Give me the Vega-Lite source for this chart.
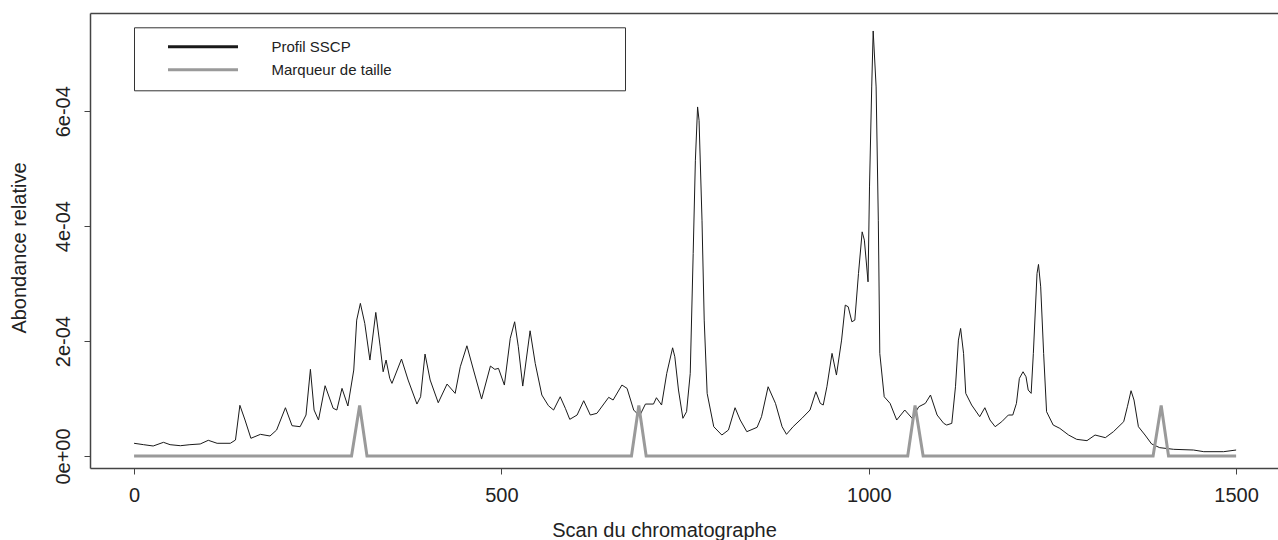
{
  "$schema": "https://vega.github.io/schema/vega-lite/v6.json",
  "width": 1188,
  "height": 455,
  "autosize": {"type": "none"},
  "padding": {"left": 90, "top": 13, "right": 0, "bottom": 72},
  "background": "white",
  "config": {
    "view": {"stroke": null},
    "font": "Liberation Sans",
    "axis": {
      "labelFont": "Liberation Sans",
      "titleFont": "Liberation Sans",
      "labelFontSize": 20,
      "titleFontSize": 20,
      "labelColor": "#222222",
      "titleColor": "#222222",
      "titleFontWeight": "normal",
      "domainColor": "#444444",
      "domainWidth": 1.5,
      "tickColor": "#444444",
      "tickWidth": 1,
      "tickSize": 6,
      "grid": false
    },
    "legend": {
      "orient": "none",
      "legendX": 44,
      "legendY": 14.3,
      "direction": "vertical",
      "padding": 12,
      "rowPadding": 7,
      "strokeColor": "#333333",
      "fillColor": "white",
      "labelFont": "Liberation Sans",
      "labelFontSize": 15,
      "labelColor": "#222222",
      "labelLimit": 1000,
      "symbolType": "M-10,0L10,0",
      "symbolSize": 49,
      "symbolStrokeWidth": 3,
      "symbolOffset": 49.5,
      "labelOffset": 61
    }
  },
  "data": {
    "values": [
      {"serie": "Profil SSCP", "scan": 0, "abondance": 2.21e-5},
      {"serie": "Profil SSCP", "scan": 13, "abondance": 1.97e-5},
      {"serie": "Profil SSCP", "scan": 26, "abondance": 1.74e-5},
      {"serie": "Profil SSCP", "scan": 40, "abondance": 2.38e-5},
      {"serie": "Profil SSCP", "scan": 49, "abondance": 1.97e-5},
      {"serie": "Profil SSCP", "scan": 63, "abondance": 1.79e-5},
      {"serie": "Profil SSCP", "scan": 76, "abondance": 1.97e-5},
      {"serie": "Profil SSCP", "scan": 90, "abondance": 2.09e-5},
      {"serie": "Profil SSCP", "scan": 101, "abondance": 2.73e-5},
      {"serie": "Profil SSCP", "scan": 113, "abondance": 2.21e-5},
      {"serie": "Profil SSCP", "scan": 131, "abondance": 2.21e-5},
      {"serie": "Profil SSCP", "scan": 138, "abondance": 2.78e-5},
      {"serie": "Profil SSCP", "scan": 144, "abondance": 8.82e-5},
      {"serie": "Profil SSCP", "scan": 151, "abondance": 6.26e-5},
      {"serie": "Profil SSCP", "scan": 159, "abondance": 3.08e-5},
      {"serie": "Profil SSCP", "scan": 172, "abondance": 3.77e-5},
      {"serie": "Profil SSCP", "scan": 185, "abondance": 3.48e-5},
      {"serie": "Profil SSCP", "scan": 194, "abondance": 4.52e-5},
      {"serie": "Profil SSCP", "scan": 206, "abondance": 8.40e-5},
      {"serie": "Profil SSCP", "scan": 215, "abondance": 5.27e-5},
      {"serie": "Profil SSCP", "scan": 226, "abondance": 5.10e-5},
      {"serie": "Profil SSCP", "scan": 234, "abondance": 7.13e-5},
      {"serie": "Profil SSCP", "scan": 240, "abondance": 1.508e-4},
      {"serie": "Profil SSCP", "scan": 245, "abondance": 8.0e-5},
      {"serie": "Profil SSCP", "scan": 251, "abondance": 6.26e-5},
      {"serie": "Profil SSCP", "scan": 260, "abondance": 1.223e-4},
      {"serie": "Profil SSCP", "scan": 271, "abondance": 8.3e-5},
      {"serie": "Profil SSCP", "scan": 276, "abondance": 8.0e-5},
      {"serie": "Profil SSCP", "scan": 283, "abondance": 1.177e-4},
      {"serie": "Profil SSCP", "scan": 291, "abondance": 8.7e-5},
      {"serie": "Profil SSCP", "scan": 299, "abondance": 1.496e-4},
      {"serie": "Profil SSCP", "scan": 303, "abondance": 2.365e-4},
      {"serie": "Profil SSCP", "scan": 308, "abondance": 2.656e-4},
      {"serie": "Profil SSCP", "scan": 314, "abondance": 2.308e-4},
      {"serie": "Profil SSCP", "scan": 321, "abondance": 1.67e-4},
      {"serie": "Profil SSCP", "scan": 329, "abondance": 2.499e-4},
      {"serie": "Profil SSCP", "scan": 335, "abondance": 1.90e-4},
      {"serie": "Profil SSCP", "scan": 339, "abondance": 1.466e-4},
      {"serie": "Profil SSCP", "scan": 343, "abondance": 1.67e-4},
      {"serie": "Profil SSCP", "scan": 348, "abondance": 1.351e-4},
      {"serie": "Profil SSCP", "scan": 351, "abondance": 1.264e-4},
      {"serie": "Profil SSCP", "scan": 364, "abondance": 1.687e-4},
      {"serie": "Profil SSCP", "scan": 373, "abondance": 1.322e-4},
      {"serie": "Profil SSCP", "scan": 385, "abondance": 9.04e-5},
      {"serie": "Profil SSCP", "scan": 390, "abondance": 1.031e-4},
      {"serie": "Profil SSCP", "scan": 396, "abondance": 1.774e-4},
      {"serie": "Profil SSCP", "scan": 403, "abondance": 1.322e-4},
      {"serie": "Profil SSCP", "scan": 414, "abondance": 9.27e-5},
      {"serie": "Profil SSCP", "scan": 426, "abondance": 1.252e-4},
      {"serie": "Profil SSCP", "scan": 437, "abondance": 1.090e-4},
      {"serie": "Profil SSCP", "scan": 444, "abondance": 1.553e-4},
      {"serie": "Profil SSCP", "scan": 453, "abondance": 1.918e-4},
      {"serie": "Profil SSCP", "scan": 462, "abondance": 1.496e-4},
      {"serie": "Profil SSCP", "scan": 473, "abondance": 9.91e-5},
      {"serie": "Profil SSCP", "scan": 485, "abondance": 1.565e-4},
      {"serie": "Profil SSCP", "scan": 491, "abondance": 1.508e-4},
      {"serie": "Profil SSCP", "scan": 496, "abondance": 1.525e-4},
      {"serie": "Profil SSCP", "scan": 504, "abondance": 1.235e-4},
      {"serie": "Profil SSCP", "scan": 512, "abondance": 2.047e-4},
      {"serie": "Profil SSCP", "scan": 518, "abondance": 2.336e-4},
      {"serie": "Profil SSCP", "scan": 523, "abondance": 1.901e-4},
      {"serie": "Profil SSCP", "scan": 529, "abondance": 1.217e-4},
      {"serie": "Profil SSCP", "scan": 539, "abondance": 2.179e-4},
      {"serie": "Profil SSCP", "scan": 546, "abondance": 1.612e-4},
      {"serie": "Profil SSCP", "scan": 555, "abondance": 1.061e-4},
      {"serie": "Profil SSCP", "scan": 564, "abondance": 8.75e-5},
      {"serie": "Profil SSCP", "scan": 571, "abondance": 8.0e-5},
      {"serie": "Profil SSCP", "scan": 580, "abondance": 1.031e-4},
      {"serie": "Profil SSCP", "scan": 587, "abondance": 8.3e-5},
      {"serie": "Profil SSCP", "scan": 593, "abondance": 6.38e-5},
      {"serie": "Profil SSCP", "scan": 603, "abondance": 7.13e-5},
      {"serie": "Profil SSCP", "scan": 612, "abondance": 9.62e-5},
      {"serie": "Profil SSCP", "scan": 621, "abondance": 7.13e-5},
      {"serie": "Profil SSCP", "scan": 630, "abondance": 7.43e-5},
      {"serie": "Profil SSCP", "scan": 646, "abondance": 1.021e-4},
      {"serie": "Profil SSCP", "scan": 652, "abondance": 9.74e-5},
      {"serie": "Profil SSCP", "scan": 664, "abondance": 1.235e-4},
      {"serie": "Profil SSCP", "scan": 671, "abondance": 1.177e-4},
      {"serie": "Profil SSCP", "scan": 680, "abondance": 8.0e-5},
      {"serie": "Profil SSCP", "scan": 688, "abondance": 6.96e-5},
      {"serie": "Profil SSCP", "scan": 696, "abondance": 9.04e-5},
      {"serie": "Profil SSCP", "scan": 707, "abondance": 9.04e-5},
      {"serie": "Profil SSCP", "scan": 711, "abondance": 1.014e-4},
      {"serie": "Profil SSCP", "scan": 718, "abondance": 8.87e-5},
      {"serie": "Profil SSCP", "scan": 725, "abondance": 1.438e-4},
      {"serie": "Profil SSCP", "scan": 733, "abondance": 1.883e-4},
      {"serie": "Profil SSCP", "scan": 736, "abondance": 1.727e-4},
      {"serie": "Profil SSCP", "scan": 741, "abondance": 1.148e-4},
      {"serie": "Profil SSCP", "scan": 747, "abondance": 6.56e-5},
      {"serie": "Profil SSCP", "scan": 752, "abondance": 7.71e-5},
      {"serie": "Profil SSCP", "scan": 757, "abondance": 1.438e-4},
      {"serie": "Profil SSCP", "scan": 761, "abondance": 3.525e-4},
      {"serie": "Profil SSCP", "scan": 764, "abondance": 5.148e-4},
      {"serie": "Profil SSCP", "scan": 767, "abondance": 6.075e-4},
      {"serie": "Profil SSCP", "scan": 769, "abondance": 5.843e-4},
      {"serie": "Profil SSCP", "scan": 773, "abondance": 4.104e-4},
      {"serie": "Profil SSCP", "scan": 776, "abondance": 2.365e-4},
      {"serie": "Profil SSCP", "scan": 780, "abondance": 1.090e-4},
      {"serie": "Profil SSCP", "scan": 789, "abondance": 5.10e-5},
      {"serie": "Profil SSCP", "scan": 800, "abondance": 3.65e-5},
      {"serie": "Profil SSCP", "scan": 809, "abondance": 4.52e-5},
      {"serie": "Profil SSCP", "scan": 818, "abondance": 8.40e-5},
      {"serie": "Profil SSCP", "scan": 825, "abondance": 6.26e-5},
      {"serie": "Profil SSCP", "scan": 834, "abondance": 4.23e-5},
      {"serie": "Profil SSCP", "scan": 848, "abondance": 4.99e-5},
      {"serie": "Profil SSCP", "scan": 854, "abondance": 6.84e-5},
      {"serie": "Profil SSCP", "scan": 863, "abondance": 1.205e-4},
      {"serie": "Profil SSCP", "scan": 873, "abondance": 9.16e-5},
      {"serie": "Profil SSCP", "scan": 882, "abondance": 5.10e-5},
      {"serie": "Profil SSCP", "scan": 888, "abondance": 3.77e-5},
      {"serie": "Profil SSCP", "scan": 897, "abondance": 5.10e-5},
      {"serie": "Profil SSCP", "scan": 909, "abondance": 6.56e-5},
      {"serie": "Profil SSCP", "scan": 920, "abondance": 8.0e-5},
      {"serie": "Profil SSCP", "scan": 928, "abondance": 1.118e-4},
      {"serie": "Profil SSCP", "scan": 934, "abondance": 9.16e-5},
      {"serie": "Profil SSCP", "scan": 938, "abondance": 8.87e-5},
      {"serie": "Profil SSCP", "scan": 943, "abondance": 1.205e-4},
      {"serie": "Profil SSCP", "scan": 950, "abondance": 1.786e-4},
      {"serie": "Profil SSCP", "scan": 956, "abondance": 1.409e-4},
      {"serie": "Profil SSCP", "scan": 963, "abondance": 2.017e-4},
      {"serie": "Profil SSCP", "scan": 968, "abondance": 2.626e-4},
      {"serie": "Profil SSCP", "scan": 972, "abondance": 2.597e-4},
      {"serie": "Profil SSCP", "scan": 977, "abondance": 2.336e-4},
      {"serie": "Profil SSCP", "scan": 981, "abondance": 2.365e-4},
      {"serie": "Profil SSCP", "scan": 986, "abondance": 3.177e-4},
      {"serie": "Profil SSCP", "scan": 991, "abondance": 3.901e-4},
      {"serie": "Profil SSCP", "scan": 994, "abondance": 3.757e-4},
      {"serie": "Profil SSCP", "scan": 999, "abondance": 3.031e-4},
      {"serie": "Profil SSCP", "scan": 1001, "abondance": 4.683e-4},
      {"serie": "Profil SSCP", "scan": 1004, "abondance": 6.423e-4},
      {"serie": "Profil SSCP", "scan": 1006, "abondance": 7.397e-4},
      {"serie": "Profil SSCP", "scan": 1010, "abondance": 6.423e-4},
      {"serie": "Profil SSCP", "scan": 1013, "abondance": 4.104e-4},
      {"serie": "Profil SSCP", "scan": 1015, "abondance": 1.786e-4},
      {"serie": "Profil SSCP", "scan": 1021, "abondance": 1.031e-4},
      {"serie": "Profil SSCP", "scan": 1029, "abondance": 9.16e-5},
      {"serie": "Profil SSCP", "scan": 1038, "abondance": 6.26e-5},
      {"serie": "Profil SSCP", "scan": 1049, "abondance": 8.0e-5},
      {"serie": "Profil SSCP", "scan": 1059, "abondance": 6.56e-5},
      {"serie": "Profil SSCP", "scan": 1068, "abondance": 8.57e-5},
      {"serie": "Profil SSCP", "scan": 1077, "abondance": 9.16e-5},
      {"serie": "Profil SSCP", "scan": 1084, "abondance": 1.061e-4},
      {"serie": "Profil SSCP", "scan": 1093, "abondance": 7.13e-5},
      {"serie": "Profil SSCP", "scan": 1102, "abondance": 5.68e-5},
      {"serie": "Profil SSCP", "scan": 1106, "abondance": 5.39e-5},
      {"serie": "Profil SSCP", "scan": 1113, "abondance": 5.68e-5},
      {"serie": "Profil SSCP", "scan": 1118, "abondance": 1.205e-4},
      {"serie": "Profil SSCP", "scan": 1122, "abondance": 2.017e-4},
      {"serie": "Profil SSCP", "scan": 1125, "abondance": 2.220e-4},
      {"serie": "Profil SSCP", "scan": 1129, "abondance": 1.786e-4},
      {"serie": "Profil SSCP", "scan": 1132, "abondance": 1.090e-4},
      {"serie": "Profil SSCP", "scan": 1140, "abondance": 8.87e-5},
      {"serie": "Profil SSCP", "scan": 1151, "abondance": 6.84e-5},
      {"serie": "Profil SSCP", "scan": 1158, "abondance": 8.40e-5},
      {"serie": "Profil SSCP", "scan": 1165, "abondance": 6.26e-5},
      {"serie": "Profil SSCP", "scan": 1172, "abondance": 5.10e-5},
      {"serie": "Profil SSCP", "scan": 1181, "abondance": 5.97e-5},
      {"serie": "Profil SSCP", "scan": 1190, "abondance": 7.13e-5},
      {"serie": "Profil SSCP", "scan": 1196, "abondance": 7.13e-5},
      {"serie": "Profil SSCP", "scan": 1201, "abondance": 9.16e-5},
      {"serie": "Profil SSCP", "scan": 1205, "abondance": 1.351e-4},
      {"serie": "Profil SSCP", "scan": 1210, "abondance": 1.466e-4},
      {"serie": "Profil SSCP", "scan": 1214, "abondance": 1.379e-4},
      {"serie": "Profil SSCP", "scan": 1217, "abondance": 1.148e-4},
      {"serie": "Profil SSCP", "scan": 1221, "abondance": 1.090e-4},
      {"serie": "Profil SSCP", "scan": 1224, "abondance": 1.786e-4},
      {"serie": "Profil SSCP", "scan": 1229, "abondance": 3.177e-4},
      {"serie": "Profil SSCP", "scan": 1231, "abondance": 3.334e-4},
      {"serie": "Profil SSCP", "scan": 1234, "abondance": 2.944e-4},
      {"serie": "Profil SSCP", "scan": 1238, "abondance": 1.786e-4},
      {"serie": "Profil SSCP", "scan": 1242, "abondance": 7.71e-5},
      {"serie": "Profil SSCP", "scan": 1251, "abondance": 5.39e-5},
      {"serie": "Profil SSCP", "scan": 1260, "abondance": 4.81e-5},
      {"serie": "Profil SSCP", "scan": 1272, "abondance": 3.65e-5},
      {"serie": "Profil SSCP", "scan": 1283, "abondance": 2.90e-5},
      {"serie": "Profil SSCP", "scan": 1297, "abondance": 2.67e-5},
      {"serie": "Profil SSCP", "scan": 1308, "abondance": 3.65e-5},
      {"serie": "Profil SSCP", "scan": 1322, "abondance": 3.19e-5},
      {"serie": "Profil SSCP", "scan": 1333, "abondance": 4.23e-5},
      {"serie": "Profil SSCP", "scan": 1347, "abondance": 5.97e-5},
      {"serie": "Profil SSCP", "scan": 1352, "abondance": 8.57e-5},
      {"serie": "Profil SSCP", "scan": 1357, "abondance": 1.136e-4},
      {"serie": "Profil SSCP", "scan": 1361, "abondance": 9.74e-5},
      {"serie": "Profil SSCP", "scan": 1367, "abondance": 5.10e-5},
      {"serie": "Profil SSCP", "scan": 1376, "abondance": 3.65e-5},
      {"serie": "Profil SSCP", "scan": 1385, "abondance": 2.09e-5},
      {"serie": "Profil SSCP", "scan": 1396, "abondance": 1.45e-5},
      {"serie": "Profil SSCP", "scan": 1415, "abondance": 1.16e-5},
      {"serie": "Profil SSCP", "scan": 1442, "abondance": 1.04e-5},
      {"serie": "Profil SSCP", "scan": 1456, "abondance": 7.5e-6},
      {"serie": "Profil SSCP", "scan": 1483, "abondance": 7.5e-6},
      {"serie": "Profil SSCP", "scan": 1500, "abondance": 1.04e-5},
      {"serie": "Marqueur de taille", "scan": 0, "abondance": 0},
      {"serie": "Marqueur de taille", "scan": 296, "abondance": 0},
      {"serie": "Marqueur de taille", "scan": 307, "abondance": 8.8e-5},
      {"serie": "Marqueur de taille", "scan": 317, "abondance": 0},
      {"serie": "Marqueur de taille", "scan": 677, "abondance": 0},
      {"serie": "Marqueur de taille", "scan": 687, "abondance": 8.8e-5},
      {"serie": "Marqueur de taille", "scan": 697, "abondance": 0},
      {"serie": "Marqueur de taille", "scan": 1053, "abondance": 0},
      {"serie": "Marqueur de taille", "scan": 1063, "abondance": 8.8e-5},
      {"serie": "Marqueur de taille", "scan": 1074, "abondance": 0},
      {"serie": "Marqueur de taille", "scan": 1387, "abondance": 0},
      {"serie": "Marqueur de taille", "scan": 1398, "abondance": 8.8e-5},
      {"serie": "Marqueur de taille", "scan": 1408, "abondance": 0},
      {"serie": "Marqueur de taille", "scan": 1500, "abondance": 0}
    ]
  },
  "resolve": {"axis": {"x": "independent"}},
  "layer": [
    {
      "transform": [{"filter": "datum.serie === 'Profil SSCP'"}],
      "mark": {"type": "line", "strokeWidth": 1, "clip": true},
      "encoding": {
        "x": {
          "field": "scan",
          "type": "quantitative",
          "scale": {"domain": [-60, 1557], "nice": false, "zero": false},
          "axis": {
            "orient": "bottom",
            "values": [0, 500, 1000, 1500],
            "format": "d",
            "labelPadding": 11,
            "labelDx": -7,
            "title": "Scan du chromatographe",
            "titleX": 574,
            "titleY": 68.7,
            "titleBaseline": "alphabetic",
            "titleAnchor": null
          }
        },
        "y": {
          "field": "abondance",
          "type": "quantitative",
          "scale": {"domain": [-2.09e-5, 7.71e-4], "nice": false, "zero": false},
          "axis": {
            "values": [0, 0.0002, 0.0004, 0.0006],
            "labelExpr": "datum.value == 0 ? '0e+00' : format(round(datum.value * 10000), 'd') + 'e-04'",
            "labelAngle": 270,
            "labelAlign": "center",
            "labelBaseline": "alphabetic",
            "labelPadding": 14.3,
            "labelDx": 4,
            "title": "Abondance relative",
            "titleAngle": 270,
            "titleAlign": "center",
            "titleBaseline": "alphabetic",
            "titleX": -65,
            "titleY": 234.5
          }
        },
        "color": {
          "field": "serie",
          "type": "nominal",
          "scale": {"domain": ["Profil SSCP", "Marqueur de taille"], "range": ["#1a1a1a", "#9a9a9a"]},
          "legend": {"title": null, "labelExpr": "datum.label + '\u00a0\u00a0\u00a0\u00a0\u00a0\u00a0\u00a0\u00a0\u00a0\u00a0\u00a0\u00a0\u00a0\u00a0\u00a0\u00a0\u00a0\u00a0\u00a0\u00a0\u00a0\u00a0\u00a0\u00a0\u00a0\u00a0\u00a0\u00a0\u00a0\u00a0\u00a0\u00a0\u00a0\u00a0\u00a0\u00a0\u00a0\u00a0\u00a0\u00a0\u00a0\u00a0\u00a0\u00a0\u00a0\u00a0\u00a0\u00a0\u00a0\u00a0\u00a0\u00a0\u00a0\u200b'"}
        }
      }
    },
    {
      "transform": [{"filter": "datum.serie === 'Marqueur de taille'"}],
      "mark": {"type": "line", "strokeWidth": 3, "clip": true},
      "encoding": {
        "x": {
          "field": "scan",
          "type": "quantitative",
          "scale": {"domain": [-60, 1557], "nice": false, "zero": false},
          "axis": {"orient": "top", "labels": false, "ticks": false, "title": null, "domain": true}
        },
        "y": {
          "field": "abondance",
          "type": "quantitative"
        },
        "color": {
          "field": "serie",
          "type": "nominal",
          "scale": {"domain": ["Profil SSCP", "Marqueur de taille"], "range": ["#1a1a1a", "#9a9a9a"]},
          "legend": {"title": null, "labelExpr": "datum.label + '\u00a0\u00a0\u00a0\u00a0\u00a0\u00a0\u00a0\u00a0\u00a0\u00a0\u00a0\u00a0\u00a0\u00a0\u00a0\u00a0\u00a0\u00a0\u00a0\u00a0\u00a0\u00a0\u00a0\u00a0\u00a0\u00a0\u00a0\u00a0\u00a0\u00a0\u00a0\u00a0\u00a0\u00a0\u00a0\u00a0\u00a0\u00a0\u00a0\u00a0\u00a0\u00a0\u00a0\u00a0\u00a0\u00a0\u00a0\u00a0\u00a0\u00a0\u00a0\u00a0\u00a0\u200b'"}
        }
      }
    }
  ]
}
